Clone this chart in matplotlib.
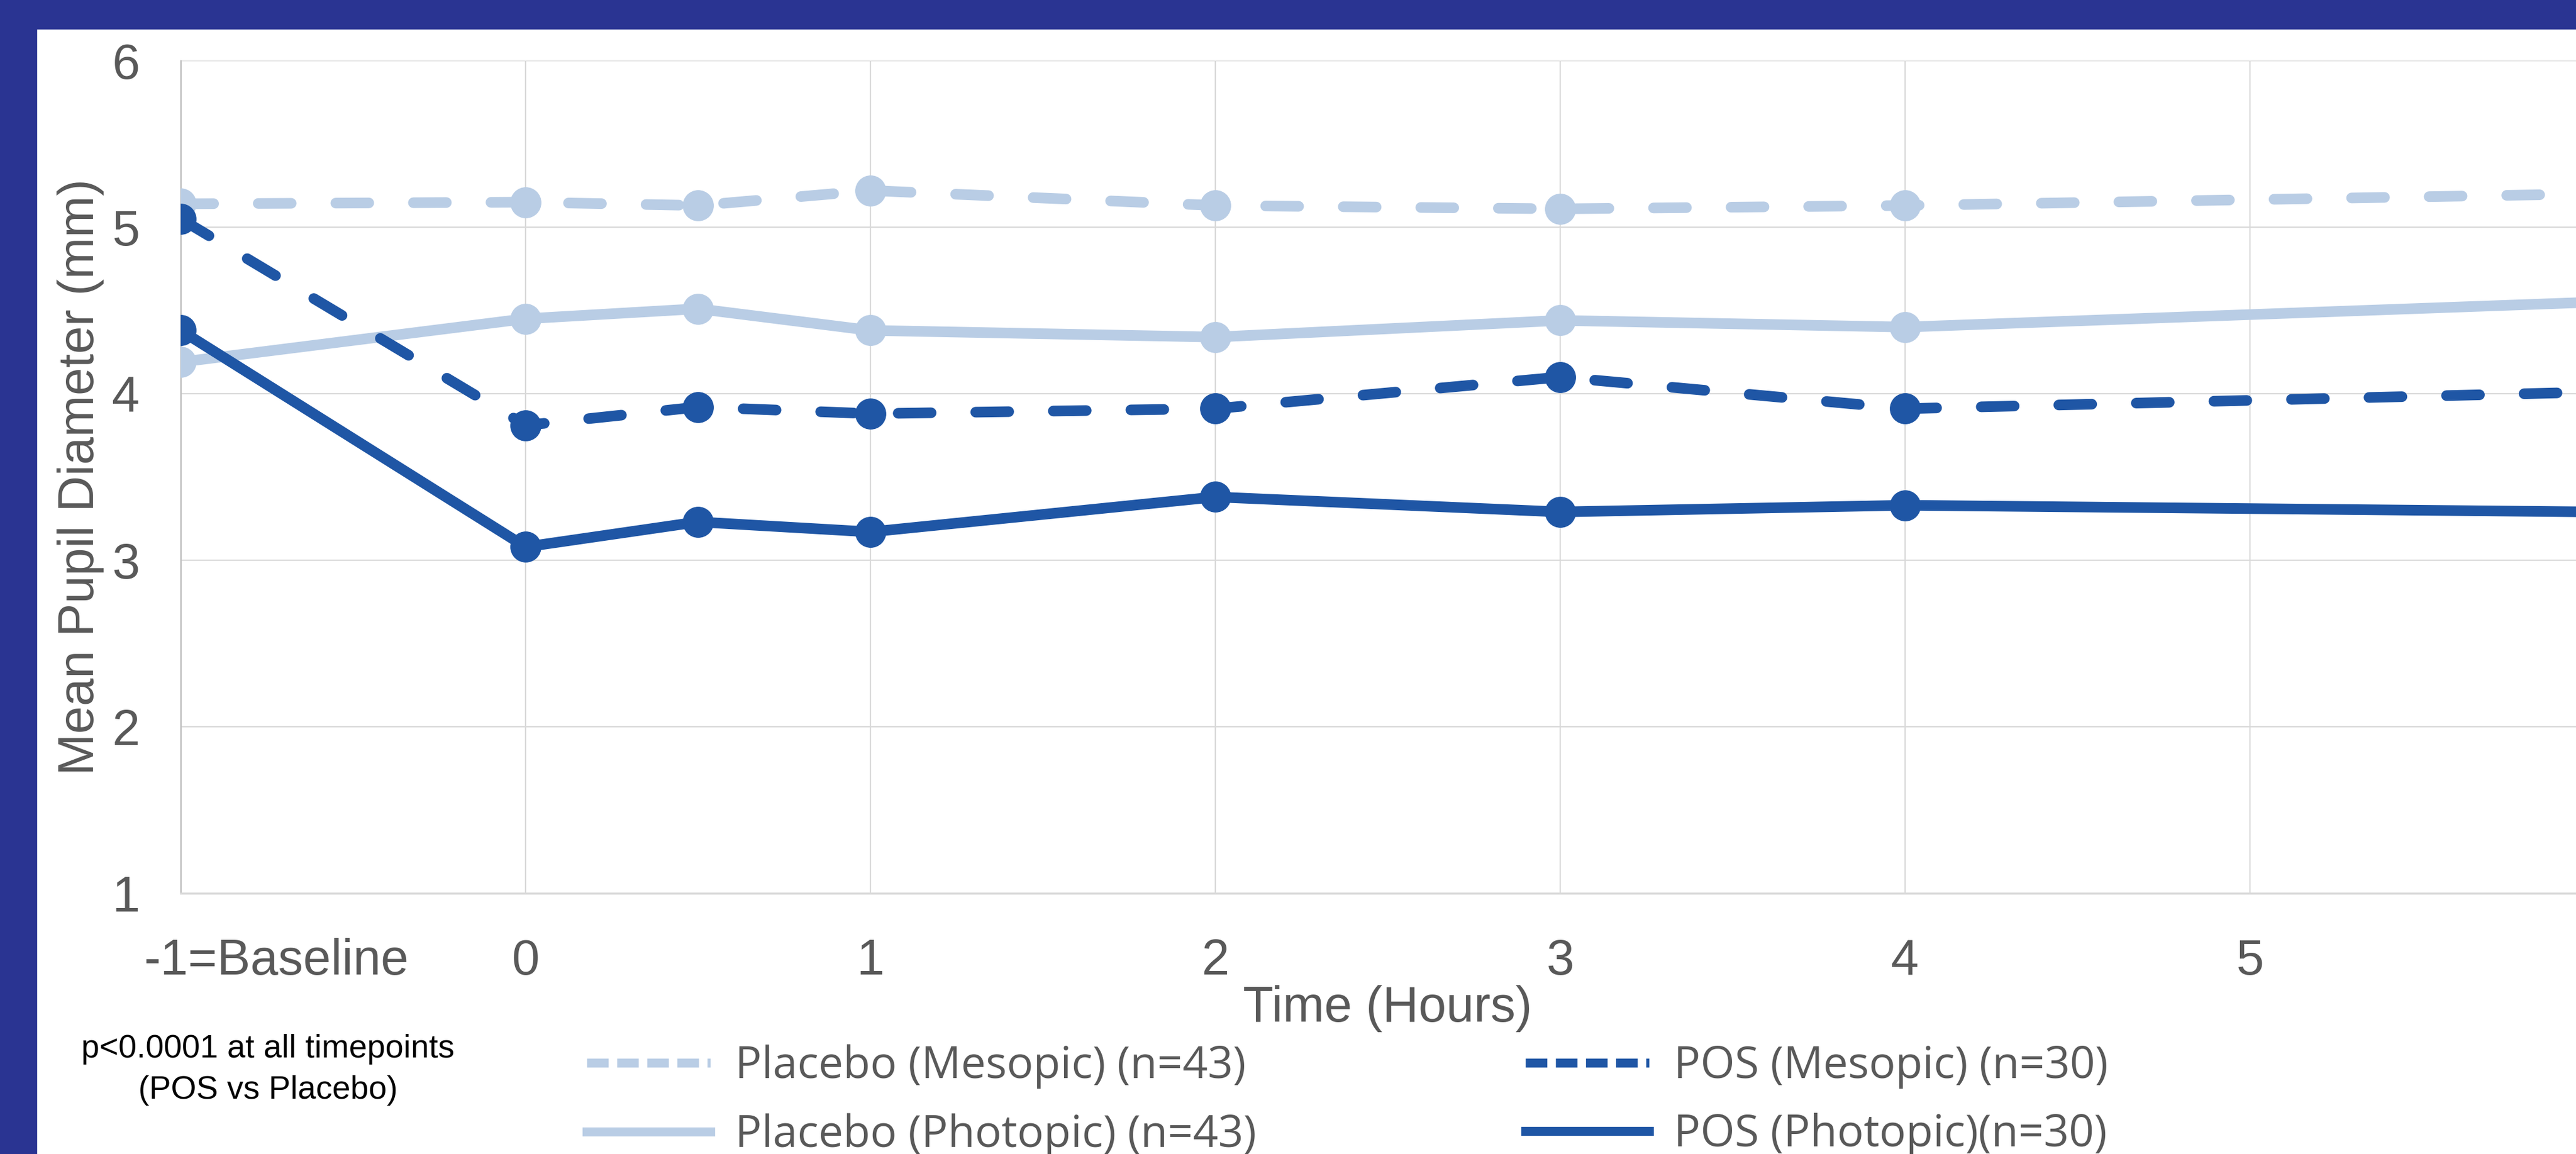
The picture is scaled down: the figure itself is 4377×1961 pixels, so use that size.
import matplotlib
matplotlib.use("Agg")
import matplotlib.pyplot as plt
from matplotlib.lines import Line2D
from matplotlib.patches import Rectangle

plt.rcParams['font.family'] = ['Liberation Sans', 'DejaVu Sans']

# data (mean pupil diameter, mm)
hours = [-1, 0, 0.5, 1, 2, 3, 4, 6]
placebo_mesopic = [5.14, 5.15, 5.13, 5.22, 5.13, 5.11, 5.13, 5.20]
placebo_photopic = [4.19, 4.45, 4.51, 4.38, 4.34, 4.44, 4.40, 4.55]
pos_mesopic = [5.05, 3.81, 3.92, 3.88, 3.91, 4.10, 3.91, 4.01]
pos_photopic = [4.38, 3.08, 3.23, 3.17, 3.38, 3.29, 3.33, 3.29]

xticks = [-1, 0, 1, 2, 3, 4, 5]
xticklabels = ['', '0', '1', '2', '3', '4', '5']
yticks = [1, 2, 3, 4, 5, 6]

legend_labels = ['Placebo (Mesopic) (n=43)', 'Placebo (Photopic) (n=43)',
                 'POS (Mesopic) (n=30)', 'POS (Photopic)(n=30)']

light = '#B9CDE5'
dark = '#1F56A5'
navy = '#2A3492'
grey_txt = '#595959'
grid_c = '#D9D9D9'

W, H = 4377, 1961
fig = plt.figure(figsize=(W / 100, H / 100), dpi=100)
fig.patch.set_facecolor('white')

# navy frame (top + left)
fig.patches.append(Rectangle((0, 1 - 49 / H), 1, 49 / H, transform=fig.transFigure,
                             color=navy, zorder=0))
fig.patches.append(Rectangle((0, 0), 62 / W, 1, transform=fig.transFigure,
                             color=navy, zorder=0))

# axes runs past the right edge (x=6 is cut off like the original)
ax = fig.add_axes([307 / W, 443 / H, 4102 / W, 1415 / H])
ax.set_xlim(-1, 6)
ax.set_ylim(1, 6)

lw = 13
ms = 37
dash = (0, (3.1, 4.2))

ax.plot(hours, placebo_photopic, color=light, lw=lw, marker='o', ms=ms,
        solid_capstyle='round', zorder=3)
ax.plot(hours, placebo_mesopic, color=light, lw=lw, marker='o', ms=ms,
        linestyle=dash, dash_capstyle='round', zorder=3)
ax.plot(hours, pos_photopic, color=dark, lw=lw, marker='o', ms=ms,
        solid_capstyle='round', zorder=4)
ax.plot(hours, pos_mesopic, color=dark, lw=lw, marker='o', ms=ms,
        linestyle=dash, dash_capstyle='round', zorder=4)

ax.set_xticks(xticks + [6])
ax.set_xticklabels(xticklabels + [''])
ax.set_yticks(yticks)
ax.tick_params(axis='both', length=0, labelsize=61, colors=grey_txt)
ax.tick_params(axis='x', pad=55)
ax.tick_params(axis='y', pad=50)
ax.annotate('-1=Baseline', xy=(-1, 0), xycoords=('data', 'axes fraction'),
            xytext=(117, -55), textcoords='offset points', ha='center', va='top',
            fontsize=61, color=grey_txt, annotation_clip=False)

ax.grid(True, color=grid_c, lw=1.6)
ax.set_axisbelow(True)
for s in ['top', 'right']:
    ax.spines[s].set_visible(False)
ax.spines['left'].set_color('#BFBFBF')
ax.spines['left'].set_linewidth(1.8)
ax.spines['bottom'].set_color(grid_c)
ax.spines['bottom'].set_linewidth(2.5)

ax.set_xlabel('Time (Hours)', fontsize=61, color=grey_txt, labelpad=0)
fig.text(137 / W, 1 - 810 / H, 'Mean Pupil Diameter (mm)', rotation=90,
         ha='center', va='center', fontsize=61, color=grey_txt)

# legend
handles = [
    Line2D([], [], color=light, lw=11, linestyle=(0, (2.4, 0.95))),
    Line2D([], [], color=light, lw=11),
    Line2D([], [], color=dark, lw=11, linestyle=(0, (2.4, 0.95))),
    Line2D([], [], color=dark, lw=11),
]
fig.legend(handles, legend_labels, ncol=2, loc='center left',
           bbox_to_anchor=(997 / W, 0.046), frameon=False,
           prop={'family': 'Open Sans', 'size': 54}, labelcolor=grey_txt,
           handlelength=2.8, handletextpad=0.56, columnspacing=6.1,
           labelspacing=0.55, borderpad=0, borderaxespad=0)

fig.text(455 / W, 1 - 1818 / H, 'p<0.0001 at all timepoints\n(POS vs Placebo)',
         ha='center', va='center', fontsize=40, color='black', linespacing=1.45)

fig.savefig('out.png', dpi=100, facecolor='white')
